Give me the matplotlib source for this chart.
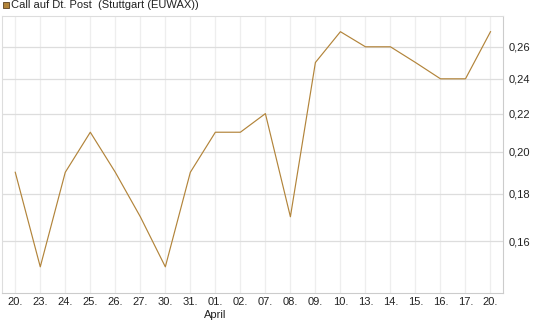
import numpy as np
import matplotlib
matplotlib.use("Agg")
import matplotlib.pyplot as plt
from matplotlib.patches import Rectangle
from matplotlib.ticker import FuncFormatter, NullLocator

plt.rcParams['font.family'] = ['Liberation Sans', 'DejaVu Sans']

# data
dates = ["20.", "23.", "24.", "25.", "26.", "27.", "30.", "31.", "01.", "02.",
         "07.", "08.", "09.", "10.", "13.", "14.", "15.", "16.", "17.", "20."]
prices = [0.19, 0.15, 0.19, 0.21, 0.19, 0.17, 0.15, 0.19, 0.21, 0.21,
          0.22, 0.17, 0.25, 0.27, 0.26, 0.26, 0.25, 0.24, 0.24, 0.27]
yticks = [0.16, 0.18, 0.20, 0.22, 0.24, 0.26]
month_label = "April"
month_pos = 8
series_name = "Call auf Dt. Post  (Stuttgart (EUWAX))"

line_col = "#b2843a"
W, H = 545, 327

fig = plt.figure(figsize=(W / 100, H / 100), dpi=100)
ax = fig.add_axes([2 / W, 1 - 293 / H, 501 / W, 277 / H])

x = np.arange(len(dates))
ax.plot(x, prices, color=line_col, lw=0.85)

ax.set_yscale('log')
ax.set_ylim(0.1405, 0.2808)
ax.set_xlim(-0.53, 19.5)
ax.yaxis.set_minor_locator(NullLocator())
ax.set_yticks(yticks)
ax.yaxis.set_major_formatter(FuncFormatter(lambda v, p: f"{v:.2f}".replace(".", ",")))
ax.yaxis.tick_right()
ax.set_xticks(x)
ax.set_xticklabels(dates)
ax.tick_params(axis='both', length=0, labelsize=8, colors="#222222")
ax.tick_params(axis='x', pad=3)
ax.tick_params(axis='y', pad=4)

ax.grid(axis='y', color="#dddddd", lw=0.9)
ax.grid(axis='x', color="#eeeeee", lw=0.9)
ax.set_axisbelow(True)

for side in ['left', 'top']:
    ax.spines[side].set_color("#dddddd")
for side in ['right', 'bottom']:
    ax.spines[side].set_color("#cccccc")

ax.text(month_pos, -0.06, month_label, transform=ax.get_xaxis_transform(),
        ha='center', va='top', fontsize=8, color="#222222")

# legend
fig.patches.append(Rectangle((3 / W, 1 - 8 / H), 6 / W, 6 / H, transform=fig.transFigure,
                             facecolor=line_col, edgecolor="#5a4020", lw=0.6))
fig.text(11 / W, 1 - 5.5 / H, series_name, ha='left', va='center', fontsize=8, color="#222222")

fig.savefig("out.png", dpi=100)
